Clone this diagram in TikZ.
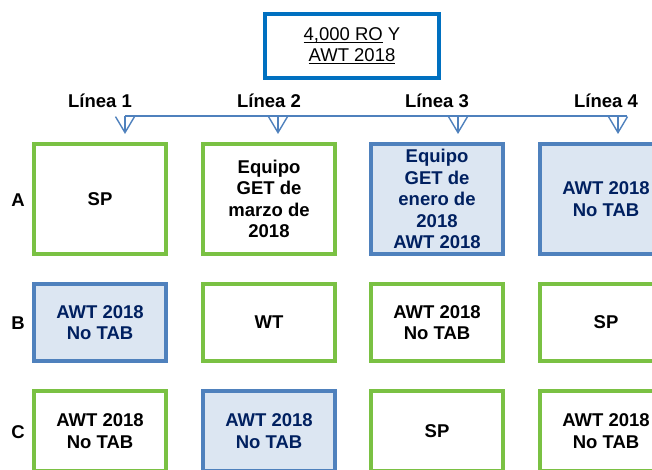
\documentclass[tikz,border=0pt]{standalone}
\usepackage{fontspec}
\setmainfont{Liberation Sans}
\usetikzlibrary{arrows.meta}
\definecolor{grn}{HTML}{7AC143}
\definecolor{blu}{HTML}{4F81BD}
\definecolor{lblu}{HTML}{DCE6F2}
\definecolor{navy}{HTML}{002060}
\definecolor{topblu}{HTML}{0070C0}
\newcommand{\undl}[1]{\setbox0\hbox{#1}\rlap{\rule[-3pt]{\wd0}{1.2pt}}\box0\relax}

\begin{document}
\begin{tikzpicture}[x=1pt,y=-1pt,
  txt/.style={font=\fontsize{18.5}{21.5}\selectfont\bfseries},
  gbox/.style={txt,draw=grn,line width=3.5pt,minimum width=132pt,inner sep=0pt,align=center},
  bbox/.style={gbox,draw=blu,fill=lblu,text=navy},
  rowa/.style={minimum height=110pt},
  rowb/.style={minimum height=77pt},
  rowc/.style={minimum height=80pt},
  lnk/.style={draw=blu,line width=1.4pt},
  tip/.style={lnk,-{Straight Barb[length=16pt,width=19pt]}}]
              \clip (0,0) rectangle (652,470);
              \node[draw=topblu,line width=3.5pt,minimum width=174pt,minimum height=64pt,align=center,font=\fontsize{18.5}{21}\selectfont](top)at(352,46){\undl{4,000 RO} Y\\\undl{AWT 2018}};
              \node[txt,anchor=base](l1)at(100,108){Línea 1};
              \node[txt,anchor=base](l2)at(269,108){Línea 2};
              \node[txt,anchor=base](l3)at(437,108){Línea 3};
              \node[txt,anchor=base](l4)at(606,108){Línea 4};
              \coordinate (h1) at (125,116);
              \coordinate (h2) at (278,116);
              \coordinate (h3) at (458,116);
              \coordinate (h4) at (618,116);
              \coordinate (h5) at (627,116);
              \coordinate (t1) at (125,134);
              \coordinate (t2) at (278,134);
              \coordinate (t3) at (458,134);
              \coordinate (t4) at (618,134);
              \draw[lnk](h1)--(h5);
              \draw[tip](h1)--(t1);
              \draw[tip](h2)--(t2);
              \draw[tip](h3)--(t3);
              \draw[tip](h4)--(t4);
              \node[txt](ra)at(18,200){A};
              \node[txt](rb)at(18,323){B};
              \node[txt](rc)at(18,432){C};
              \node[gbox,rowa](a1)at(100,199){SP};
              \node[gbox,rowa](a2)at(269,199){Equipo\\GET de\\marzo de\\2018};
              \node[bbox,rowa](a3)at(437,199){Equipo\\GET de\\enero de\\2018\\AWT 2018};
              \node[bbox,rowa](a4)at(606,199){AWT 2018\\No TAB};
              \node[bbox,rowb](b1)at(100,322.5){AWT 2018\\No TAB};
              \node[gbox,rowb](b2)at(269,322.5){WT};
              \node[gbox,rowb](b3)at(437,322.5){AWT 2018\\No TAB};
              \node[gbox,rowb](b4)at(606,322.5){SP};
              \node[gbox,rowc](c1)at(100,431){AWT 2018\\No TAB};
              \node[bbox,rowc](c2)at(269,431){AWT 2018\\No TAB};
              \node[gbox,rowc](c3)at(437,431){SP};
              \node[gbox,rowc](c4)at(606,431){AWT 2018\\No TAB};
            \end{tikzpicture}
\end{document}
